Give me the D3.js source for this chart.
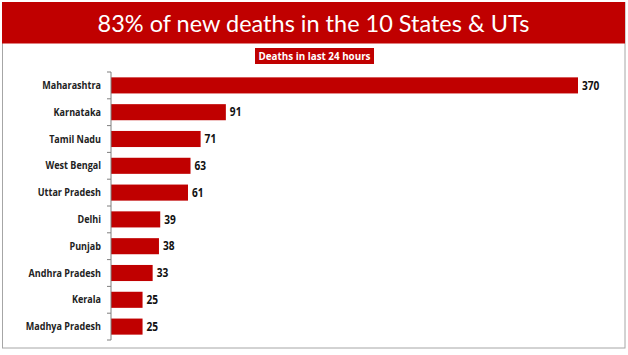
<!DOCTYPE html>
<html><head><meta charset="utf-8">
<script src="https://cdn.jsdelivr.net/npm/d3@7"></script>
<style>body{margin:0;background:#fff}svg{display:block}</style>
</head><body>
<svg id="c" width="628" height="355"></svg>
<script>
const categories = ["Maharashtra","Karnataka","Tamil Nadu","West Bengal","Uttar Pradesh","Delhi","Punjab","Andhra Pradesh","Kerala","Madhya Pradesh"];
const deaths = [370,91,71,63,61,39,38,33,25,25];
const title = "83% of new deaths in the 10 States & UTs";
const subtitle = "Deaths in last 24 hours";

const svg = d3.select("#c");
const red = "#c00000";
const lab = "'Open Sans', sans-serif";
function squeeze(sel, f){
  sel.each(function(){
    const L = this.getComputedTextLength();
    d3.select(this).attr("textLength", L*f).attr("lengthAdjust","spacingAndGlyphs");
  });
}
// frame
svg.append("rect").attr("x",2.5).attr("y",2.5).attr("width",622.5).attr("height",345.5)
  .attr("fill","#fff").attr("stroke","#a6a6a6").attr("stroke-width",1);
// banner
svg.append("rect").attr("x",2).attr("y",2).attr("width",623).attr("height",41.5).attr("fill",red);
svg.append("text").attr("x",313.5).attr("y",31.5).attr("text-anchor","middle")
  .attr("fill","#fff").attr("font-family","Lato, 'Open Sans', sans-serif").attr("font-size",23.5)
  .text(title);
// subtitle box
svg.append("rect").attr("x",255).attr("y",48).attr("width",119).attr("height",16).attr("fill",red);
svg.append("text").attr("x",314.5).attr("y",60).attr("text-anchor","middle")
  .attr("fill","#fff").attr("font-family",lab).attr("font-weight","bold").attr("font-size",10.5)
  .attr("textLength",112).attr("lengthAdjust","spacingAndGlyphs")
  .text(subtitle);

const x = d3.scaleLinear().domain([0, 370]).range([111, 578]);
const y = d3.scaleBand().domain(categories).range([72, 340]).paddingInner(0.4).paddingOuter(0.2);

const data = categories.map((c,i)=>({c, v: deaths[i]}));
svg.append("g").selectAll("rect").data(data).join("rect")
  .attr("x", x(0)).attr("y", d=>y(d.c)).attr("width", d=>x(d.v)-x(0)).attr("height", y.bandwidth())
  .attr("fill", red);

// axis line with ticks between categories
const ax = svg.append("g");
ax.append("line").attr("x1",111).attr("x2",111).attr("y1",72).attr("y2",340).attr("stroke","#7f7f7f");
for (let i=0;i<=categories.length;i++){
  const yy = 72 + i*y.step();
  ax.append("line").attr("x1",107).attr("x2",111).attr("y1",yy).attr("y2",yy).attr("stroke","#7f7f7f");
}

const cl = svg.append("g").selectAll("text").data(data).join("text")
  .attr("x", 101).attr("y", d=>y(d.c)+y.bandwidth()/2).attr("dy","0.35em")
  .attr("text-anchor","end").attr("font-family",lab).attr("font-weight","bold")
  .attr("font-size",10.5).attr("fill","#222").text(d=>d.c);
squeeze(cl, 0.86);

const vl = svg.append("g").selectAll("text").data(data).join("text")
  .attr("x", d=>x(d.v)+4).attr("y", d=>y(d.c)+y.bandwidth()/2).attr("dy","0.36em")
  .attr("font-family",lab).attr("font-weight","bold")
  .attr("font-size",11.5).attr("fill","#111").text(d=>d.v);
squeeze(vl, 0.88);
</script>
</body></html>
